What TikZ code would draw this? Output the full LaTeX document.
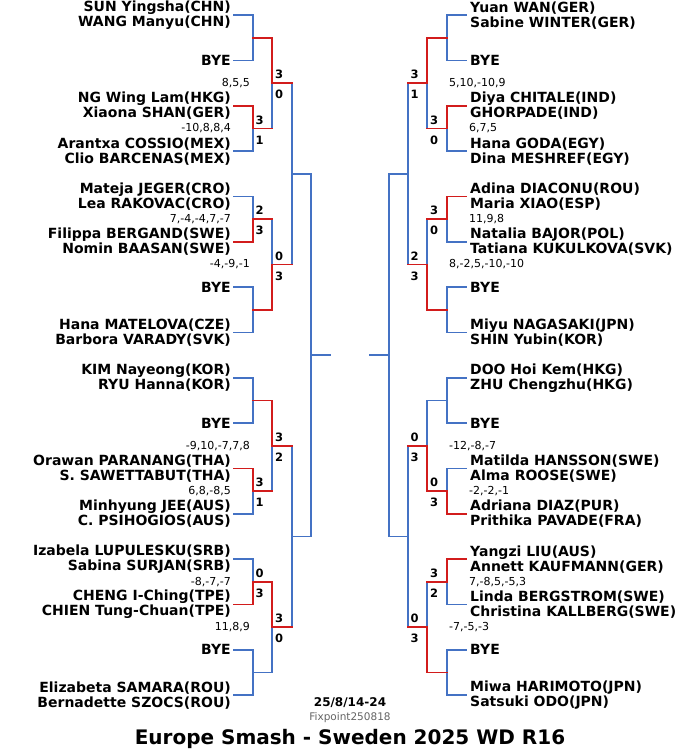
\documentclass[tikz,border=0pt]{standalone}
\usepackage{fontspec}
\setmainfont{DejaVu Sans}
\definecolor{bblue}{RGB}{68,114,196}
\definecolor{rred}{RGB}{210,28,28}
\definecolor{fgray}{RGB}{100,100,100}
\begin{document}
\begin{tikzpicture}[x=1pt,y=-1pt,
  bl/.style={line width=1.8pt, draw=bblue, line cap=rect},
  rl/.style={line width=1.8pt, draw=rred, line cap=rect, line join=miter},
  namel/.style={anchor=east, inner sep=0pt, align=right, font=\fontsize{14}{15}\selectfont\bfseries},
  namer/.style={anchor=west, inner sep=0pt, align=left, font=\fontsize{14}{15}\selectfont\bfseries},
  sc/.style={inner sep=0pt, font=\fontsize{11}{12}\selectfont},
  gl/.style={inner sep=0pt, anchor=west, font=\fontsize{11.5}{12}\selectfont\bfseries},
]
\useasboundingbox (0,0) rectangle (700,756);

% ---------- coordinates ----------
\foreach \i in {0,...,15}{
  \pgfmathsetmacro\yy{15.2+45.33*\i}
  \coordinate (LA\i) at (234,\yy);
  \coordinate (LB\i) at (253,\yy);
  \coordinate (RA\i) at (466,\yy);
  \coordinate (RB\i) at (447,\yy);
}
\foreach \k in {0,...,7}{
  \pgfmathsetmacro\yy{15.2+45.33*(2*\k+0.5)}
  \coordinate (LM1-\k) at (253,\yy);
  \coordinate (LO1-\k) at (272,\yy);
  \coordinate (RM1-\k) at (447,\yy);
  \coordinate (RO1-\k) at (427,\yy);
}
\foreach \m in {0,...,3}{
  \pgfmathsetmacro\yy{15.2+45.33*(4*\m+1.5)}
  \coordinate (LM2-\m) at (272,\yy);
  \coordinate (LO2-\m) at (292,\yy);
  \coordinate (RM2-\m) at (427,\yy);
  \coordinate (RO2-\m) at (408,\yy);
}
\foreach \n in {0,1}{
  \pgfmathsetmacro\yy{15.2+45.33*(8*\n+3.5)}
  \coordinate (LM3-\n) at (292,\yy);
  \coordinate (LO3-\n) at (311,\yy);
  \coordinate (RM3-\n) at (408,\yy);
  \coordinate (RO3-\n) at (389,\yy);
}
\coordinate (LM4) at (311,355.2);
\coordinate (LO4) at (330,355.2);
\coordinate (RM4) at (389,355.2);
\coordinate (RO4) at (370,355.2);

% ---------- blue structure ----------
\foreach \i in {0,...,15}{
  \draw[bl] (LA\i) -- (LB\i);
  \draw[bl] (RA\i) -- (RB\i);
}
\foreach \k in {0,...,7}{
  \pgfmathtruncatemacro\ta{2*\k}
  \pgfmathtruncatemacro\tb{2*\k+1}
  \draw[bl] (LB\ta) -- (LB\tb);
  \draw[bl] (LM1-\k) -- (LO1-\k);
  \draw[bl] (RB\ta) -- (RB\tb);
  \draw[bl] (RM1-\k) -- (RO1-\k);
}
\foreach \m in {0,...,3}{
  \pgfmathtruncatemacro\ta{2*\m}
  \pgfmathtruncatemacro\tb{2*\m+1}
  \draw[bl] (LO1-\ta) -- (LO1-\tb);
  \draw[bl] (LM2-\m) -- (LO2-\m);
  \draw[bl] (RO1-\ta) -- (RO1-\tb);
  \draw[bl] (RM2-\m) -- (RO2-\m);
}
\foreach \n in {0,1}{
  \pgfmathtruncatemacro\ta{2*\n}
  \pgfmathtruncatemacro\tb{2*\n+1}
  \draw[bl] (LO2-\ta) -- (LO2-\tb);
  \draw[bl] (LM3-\n) -- (LO3-\n);
  \draw[bl] (RO2-\ta) -- (RO2-\tb);
  \draw[bl] (RM3-\n) -- (RO3-\n);
}
\draw[bl] (LO3-0) -- (LO3-1);
\draw[bl] (LM4) -- (LO4);
\draw[bl] (RO3-0) -- (RO3-1);
\draw[bl] (RM4) -- (RO4);

% ---------- red winner paths ----------
\draw[rl] (LM1-0) -- (LO1-0) -- (LM2-0) -- (LO2-0);
\draw[rl] (LA2) -- (LB2) -- (LM1-1) -- (LO1-1);
\draw[rl] (LA5) -- (LB5) -- (LM1-2) -- (LO1-2);
\draw[rl] (LM1-3) -- (LO1-3) -- (LM2-1) -- (LO2-1);
\draw[rl] (LM1-4) -- (LO1-4) -- (LM2-2) -- (LO2-2);
\draw[rl] (LA10) -- (LB10) -- (LM1-5) -- (LO1-5);
\draw[rl] (LA13) -- (LB13) -- (LM1-6) -- (LO1-6) -- (LM2-3) -- (LO2-3);

\draw[rl] (RM1-0) -- (RO1-0) -- (RM2-0) -- (RO2-0);
\draw[rl] (RA2) -- (RB2) -- (RM1-1) -- (RO1-1);
\draw[rl] (RA4) -- (RB4) -- (RM1-2) -- (RO1-2);
\draw[rl] (RM1-3) -- (RO1-3) -- (RM2-1) -- (RO2-1);
\draw[rl] (RA11) -- (RB11) -- (RM1-5) -- (RO1-5) -- (RM2-2) -- (RO2-2);
\draw[rl] (RA12) -- (RB12) -- (RM1-6) -- (RO1-6);
\draw[rl] (RM1-7) -- (RO1-7) -- (RM2-3) -- (RO2-3);

% ---------- left names ----------
\node[namel] (LN0) at ([xshift=-3pt]LA0) {SUN Yingsha(CHN)\\WANG Manyu(CHN)};
\node[namel] (LN1) at ([xshift=-3pt]LA1) {BYE};
\node[namel] (LN2) at ([xshift=-3pt]LA2) {NG Wing Lam(HKG)\\Xiaona SHAN(GER)};
\node[namel] (LN3) at ([xshift=-3pt]LA3) {Arantxa COSSIO(MEX)\\Clio BARCENAS(MEX)};
\node[namel] (LN4) at ([xshift=-3pt]LA4) {Mateja JEGER(CRO)\\Lea RAKOVAC(CRO)};
\node[namel] (LN5) at ([xshift=-3pt]LA5) {Filippa BERGAND(SWE)\\Nomin BAASAN(SWE)};
\node[namel] (LN6) at ([xshift=-3pt]LA6) {BYE};
\node[namel] (LN7) at ([xshift=-3pt]LA7) {Hana MATELOVA(CZE)\\Barbora VARADY(SVK)};
\node[namel] (LN8) at ([xshift=-3pt]LA8) {KIM Nayeong(KOR)\\RYU Hanna(KOR)};
\node[namel] (LN9) at ([xshift=-3pt]LA9) {BYE};
\node[namel] (LN10) at ([xshift=-3pt]LA10) {Orawan PARANANG(THA)\\S. SAWETTABUT(THA)};
\node[namel] (LN11) at ([xshift=-3pt]LA11) {Minhyung JEE(AUS)\\C. PSIHOGIOS(AUS)};
\node[namel] (LN12) at ([xshift=-3pt]LA12) {Izabela LUPULESKU(SRB)\\Sabina SURJAN(SRB)};
\node[namel] (LN13) at ([xshift=-3pt]LA13) {CHENG I-Ching(TPE)\\CHIEN Tung-Chuan(TPE)};
\node[namel] (LN14) at ([xshift=-3pt]LA14) {BYE};
\node[namel] (LN15) at ([xshift=-3pt]LA15) {Elizabeta SAMARA(ROU)\\Bernadette SZOCS(ROU)};

% ---------- right names ----------
\node[namer] (RN0) at ([xshift=4pt]RA0) {Yuan WAN(GER)\\Sabine WINTER(GER)};
\node[namer] (RN1) at ([xshift=4pt]RA1) {BYE};
\node[namer] (RN2) at ([xshift=4pt]RA2) {Diya CHITALE(IND)\\GHORPADE(IND)};
\node[namer] (RN3) at ([xshift=4pt]RA3) {Hana GODA(EGY)\\Dina MESHREF(EGY)};
\node[namer] (RN4) at ([xshift=4pt]RA4) {Adina DIACONU(ROU)\\Maria XIAO(ESP)};
\node[namer] (RN5) at ([xshift=4pt]RA5) {Natalia BAJOR(POL)\\Tatiana KUKULKOVA(SVK)};
\node[namer] (RN6) at ([xshift=4pt]RA6) {BYE};
\node[namer] (RN7) at ([xshift=4pt]RA7) {Miyu NAGASAKI(JPN)\\SHIN Yubin(KOR)};
\node[namer] (RN8) at ([xshift=4pt]RA8) {DOO Hoi Kem(HKG)\\ZHU Chengzhu(HKG)};
\node[namer] (RN9) at ([xshift=4pt]RA9) {BYE};
\node[namer] (RN10) at ([xshift=4pt]RA10) {Matilda HANSSON(SWE)\\Alma ROOSE(SWE)};
\node[namer] (RN11) at ([xshift=4pt]RA11) {Adriana DIAZ(PUR)\\Prithika PAVADE(FRA)};
\node[namer] (RN12) at ([xshift=4pt]RA12) {Yangzi LIU(AUS)\\Annett KAUFMANN(GER)};
\node[namer] (RN13) at ([xshift=4pt]RA13) {Linda BERGSTROM(SWE)\\Christina KALLBERG(SWE)};
\node[namer] (RN14) at ([xshift=4pt]RA14) {BYE};
\node[namer] (RN15) at ([xshift=4pt]RA15) {Miwa HARIMOTO(JPN)\\Satsuki ODO(JPN)};

% ---------- game scores (left) ----------
\node[sc,anchor=east] (LS1-1) at ([xshift=-22pt]LM1-1) {-10,8,8,4};
\node[sc,anchor=east] (LS1-2) at ([xshift=-22pt]LM1-2) {7,-4,-4,7,-7};
\node[sc,anchor=east] (LS1-5) at ([xshift=-22pt]LM1-5) {6,8,-8,5};
\node[sc,anchor=east] (LS1-6) at ([xshift=-22pt]LM1-6) {-8,-7,-7};
\node[sc,anchor=east] (LS2-0) at ([xshift=-22pt]LM2-0) {8,5,5};
\node[sc,anchor=east] (LS2-1) at ([xshift=-22pt]LM2-1) {-4,-9,-1};
\node[sc,anchor=east] (LS2-2) at ([xshift=-22pt]LM2-2) {-9,10,-7,7,8};
\node[sc,anchor=east] (LS2-3) at ([xshift=-22pt]LM2-3) {11,8,9};

% ---------- game scores (right) ----------
\node[sc,anchor=west] (RS1-1) at ([xshift=22pt]RM1-1) {6,7,5};
\node[sc,anchor=west] (RS1-2) at ([xshift=22pt]RM1-2) {11,9,8};
\node[sc,anchor=west] (RS1-5) at ([xshift=22pt]RM1-5) {-2,-2,-1};
\node[sc,anchor=west] (RS1-6) at ([xshift=22pt]RM1-6) {7,-8,5,-5,3};
\node[sc,anchor=west] (RS2-0) at ([xshift=22pt]RM2-0) {5,10,-10,9};
\node[sc,anchor=west] (RS2-1) at ([xshift=22pt]RM2-1) {8,-2,5,-10,-10};
\node[sc,anchor=west] (RS2-2) at ([xshift=22pt]RM2-2) {-12,-8,-7};
\node[sc,anchor=west] (RS2-3) at ([xshift=22pt]RM2-3) {-7,-5,-3};

% ---------- match results (left) ----------
\node[gl] (LG1-1a) at ([xshift=2.5pt,yshift=8.5pt]LM1-1) {3};
\node[gl] (LG1-1b) at ([xshift=2.5pt,yshift=-11.5pt]LM1-1) {1};
\node[gl] (LG1-2a) at ([xshift=2.5pt,yshift=8.5pt]LM1-2) {2};
\node[gl] (LG1-2b) at ([xshift=2.5pt,yshift=-11.5pt]LM1-2) {3};
\node[gl] (LG1-5a) at ([xshift=2.5pt,yshift=8.5pt]LM1-5) {3};
\node[gl] (LG1-5b) at ([xshift=2.5pt,yshift=-11.5pt]LM1-5) {1};
\node[gl] (LG1-6a) at ([xshift=2.5pt,yshift=8.5pt]LM1-6) {0};
\node[gl] (LG1-6b) at ([xshift=2.5pt,yshift=-11.5pt]LM1-6) {3};
\node[gl] (LG2-0a) at ([xshift=3pt,yshift=8.5pt]LM2-0) {3};
\node[gl] (LG2-0b) at ([xshift=3pt,yshift=-11.5pt]LM2-0) {0};
\node[gl] (LG2-1a) at ([xshift=3pt,yshift=8.5pt]LM2-1) {0};
\node[gl] (LG2-1b) at ([xshift=3pt,yshift=-11.5pt]LM2-1) {3};
\node[gl] (LG2-2a) at ([xshift=3pt,yshift=8.5pt]LM2-2) {3};
\node[gl] (LG2-2b) at ([xshift=3pt,yshift=-11.5pt]LM2-2) {2};
\node[gl] (LG2-3a) at ([xshift=3pt,yshift=8.5pt]LM2-3) {3};
\node[gl] (LG2-3b) at ([xshift=3pt,yshift=-11.5pt]LM2-3) {0};

% ---------- match results (right) ----------
\node[gl] (RG1-1a) at ([xshift=3pt,yshift=8.5pt]RO1-1) {3};
\node[gl] (RG1-1b) at ([xshift=3pt,yshift=-11.5pt]RO1-1) {0};
\node[gl] (RG1-2a) at ([xshift=3pt,yshift=8.5pt]RO1-2) {3};
\node[gl] (RG1-2b) at ([xshift=3pt,yshift=-11.5pt]RO1-2) {0};
\node[gl] (RG1-5a) at ([xshift=3pt,yshift=8.5pt]RO1-5) {0};
\node[gl] (RG1-5b) at ([xshift=3pt,yshift=-11.5pt]RO1-5) {3};
\node[gl] (RG1-6a) at ([xshift=3pt,yshift=8.5pt]RO1-6) {3};
\node[gl] (RG1-6b) at ([xshift=3pt,yshift=-11.5pt]RO1-6) {2};
\node[gl] (RG2-0a) at ([xshift=2.5pt,yshift=8.5pt]RO2-0) {3};
\node[gl] (RG2-0b) at ([xshift=2.5pt,yshift=-11.5pt]RO2-0) {1};
\node[gl] (RG2-1a) at ([xshift=2.5pt,yshift=8.5pt]RO2-1) {2};
\node[gl] (RG2-1b) at ([xshift=2.5pt,yshift=-11.5pt]RO2-1) {3};
\node[gl] (RG2-2a) at ([xshift=2.5pt,yshift=8.5pt]RO2-2) {0};
\node[gl] (RG2-2b) at ([xshift=2.5pt,yshift=-11.5pt]RO2-2) {3};
\node[gl] (RG2-3a) at ([xshift=2.5pt,yshift=8.5pt]RO2-3) {0};
\node[gl] (RG2-3b) at ([xshift=2.5pt,yshift=-11.5pt]RO2-3) {3};

% ---------- footer ----------
\node[inner sep=0pt, font=\fontsize{12}{14}\selectfont\bfseries] (date) at (350,703) {25/8/14-24};
\node[inner sep=0pt, text=fgray, font=\fontsize{10.5}{12}\selectfont] (fix) at (350,717.5) {Fixpoint250818};
\node[inner sep=0pt, font=\fontsize{20}{22}\selectfont\bfseries] (title) at (350,739) {Europe Smash - Sweden 2025 WD R16};
\end{tikzpicture}
\end{document}
